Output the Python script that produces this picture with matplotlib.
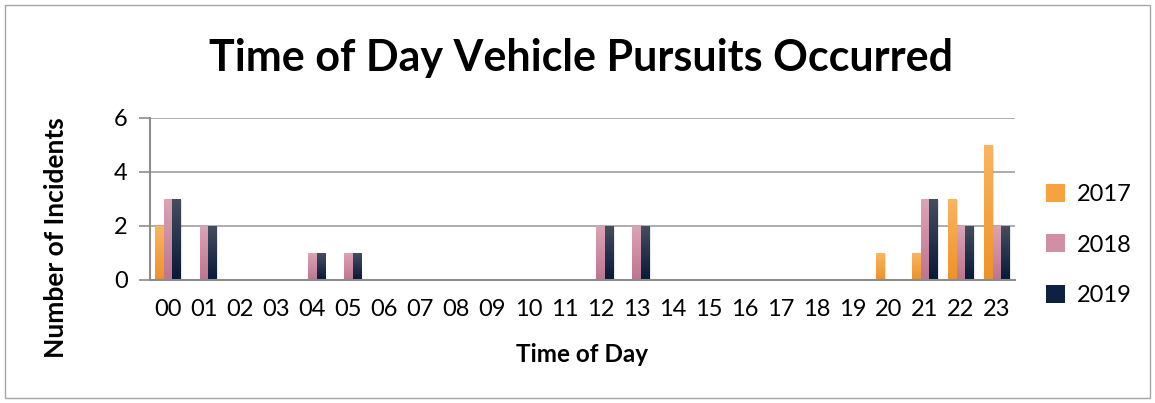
import matplotlib
matplotlib.use("Agg")
import matplotlib.pyplot as plt
import numpy as np
from matplotlib.colors import LinearSegmentedColormap
from matplotlib.patches import Rectangle

hours = ["00", "01", "02", "03", "04", "05", "06", "07", "08", "09", "10", "11",
         "12", "13", "14", "15", "16", "17", "18", "19", "20", "21", "22", "23"]
y2017 = [2, 0, 0, 0, 0, 0, 0, 0, 0, 0, 0, 0, 0, 0, 0, 0, 0, 0, 0, 0, 1, 1, 3, 5]
y2018 = [3, 2, 0, 0, 1, 1, 0, 0, 0, 0, 0, 0, 2, 2, 0, 0, 0, 0, 0, 0, 0, 3, 2, 2]
y2019 = [3, 2, 0, 0, 1, 1, 0, 0, 0, 0, 0, 0, 2, 2, 0, 0, 0, 0, 0, 0, 0, 3, 2, 2]
series_names = ["2017", "2018", "2019"]
yticks = [0, 2, 4, 6]

# (top colour, bottom colour, legend colour)
grads = [("#F9B562", "#EE9226", "#F7A241"),
         ("#DBA4B4", "#BE7590", "#D08FA5"),
         ("#454E5E", "#06193A", "#0F2140")]

FONT = "Lato"
W, H = 1155, 403
fig = plt.figure(figsize=(W / 100, H / 100), dpi=100)
fig.patch.set_facecolor("white")
# outer border
fig.add_artist(Rectangle((5 / W, 5 / H), 1145 / W, 393 / H, transform=fig.transFigure,
                         fill=False, edgecolor="#A6A6A6", lw=1.0))

left, right, top, bottom = 150, 1015, 118, 280
ax = fig.add_axes([left / W, 1 - bottom / H, (right - left) / W, (bottom - top) / H])

x = np.arange(len(hours))
bw = 0.24
data = [y2017, y2018, y2019]
for i, (vals, (ctop, cbot, cleg)) in enumerate(zip(data, grads)):
    offs = (i - 1) * bw
    bars = ax.bar(x + offs, vals, width=bw, color=cleg, edgecolor="none", zorder=3,
                  label=series_names[i])
    cmap = LinearSegmentedColormap.from_list("g%d" % i, [cbot, ctop])
    grad = np.linspace(0, 1, 256).reshape(-1, 1)
    for b, v in zip(bars, vals):
        if v <= 0:
            continue
        bx = b.get_x()
        # soft shadow
        ax.add_patch(Rectangle((bx + 0.03, 0), bw, v - 0.02, facecolor="#000000",
                               alpha=0.10, edgecolor="none", zorder=2))
        im = ax.imshow(grad, cmap=cmap, origin="lower", aspect="auto",
                       extent=(bx, bx + bw, 0, v), zorder=4, interpolation="bilinear")
        im.set_clip_path(b)

ax.set_xlim(-0.5, len(hours) - 0.5)
ax.set_ylim(0, 6)
ax.set_yticks(yticks)
ax.set_xticks(x)
ax.set_xticklabels(hours)
ax.yaxis.grid(True, color="#A0A0A0", lw=1.2, zorder=0)
ax.set_axisbelow(True)
for s in ["top", "right"]:
    ax.spines[s].set_visible(False)
for s in ["left", "bottom"]:
    ax.spines[s].set_color("#8C8C8C")
    ax.spines[s].set_linewidth(1.5)
    ax.spines[s].set_zorder(5)
ax.tick_params(axis="y", length=8, width=1.2, color="#8C8C8C", pad=8,
               labelsize=17)
ax.tick_params(axis="x", length=0, pad=14, labelsize=17)
for lab in ax.get_xticklabels() + ax.get_yticklabels():
    lab.set_fontfamily(FONT)

ax.set_ylabel("Number of Incidents", fontfamily=FONT, fontweight="bold", fontsize=19)
ax.yaxis.set_label_coords((68 - left) / (right - left), (bottom - 238) / (bottom - top))
ax.set_xlabel("Time of Day", fontfamily=FONT, fontweight="bold", fontsize=17.5,
              labelpad=16)

fig.text(581 / W, 1 - 58 / H, "Time of Day Vehicle Pursuits Occurred", ha="center",
         va="center", fontfamily=FONT, fontweight="bold", fontsize=31)

handles = [Rectangle((0, 0), 1, 1, facecolor=g[2], edgecolor="none") for g in grads]
leg = fig.legend(handles, series_names, loc="center left",
                 bbox_to_anchor=(1025 / W, 1 - 245 / H), frameon=False,
                 prop={"family": FONT, "size": 17}, handlelength=0.8, handleheight=0.8,
                 handletextpad=0.5, labelspacing=1.25)

fig.savefig("out.png", dpi=100, facecolor="white")
